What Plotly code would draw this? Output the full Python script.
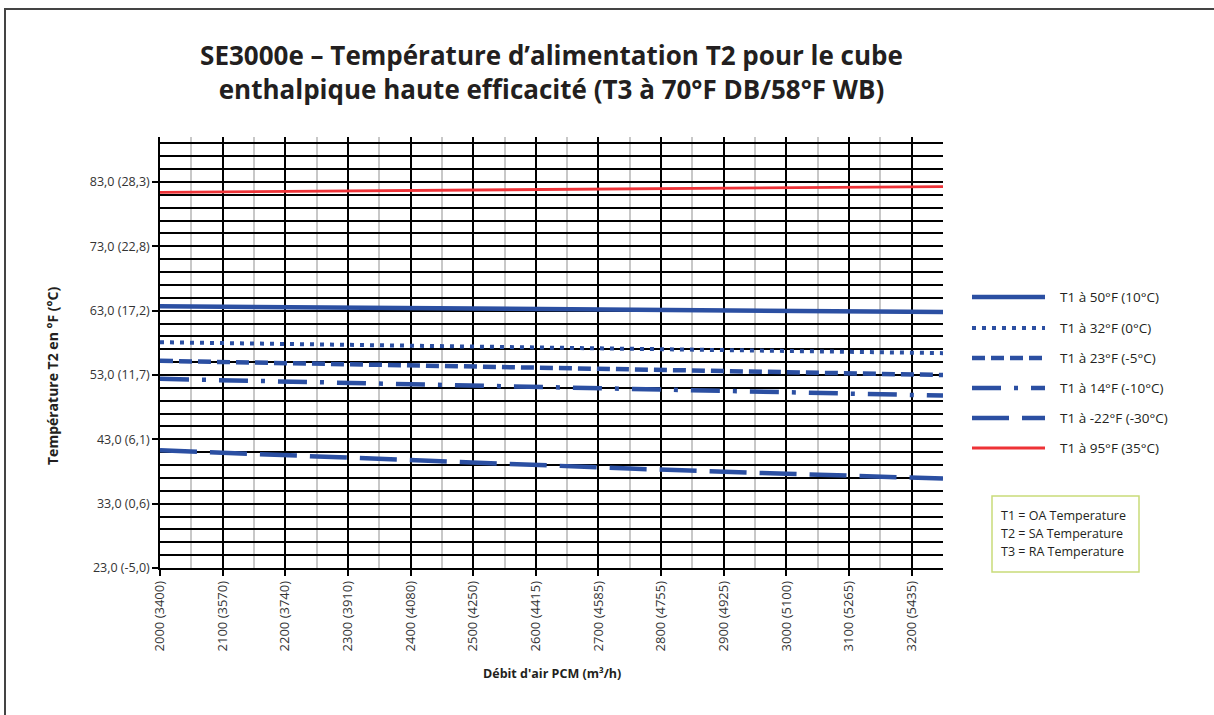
import plotly.graph_objects as go

# ---- data ----
airflow_cfm = [2000, 2250, 2500, 2750, 3000, 3250]
series_names = ["T1 à 50°F (10°C)", "T1 à 32°F (0°C)", "T1 à 23°F (-5°C)",
                "T1 à 14°F (-10°C)", "T1 à -22°F (-30°C)", "T1 à 95°F (35°C)"]
t1_50F = [63.7, 63.5, 63.3, 63.1, 62.95, 62.8]
t1_32F = [58.1, 57.75, 57.4, 57.05, 56.7, 56.4]
t1_23F = [55.2, 54.75, 54.3, 53.85, 53.45, 53.0]
t1_14F = [52.4, 51.85, 51.3, 50.8, 50.3, 49.8]
t1_m22F = [41.3, 40.3, 39.35, 38.45, 37.65, 36.9]
t1_95F = [81.4, 81.6, 81.8, 81.95, 82.1, 82.3]
series_values = [t1_50F, t1_32F, t1_23F, t1_14F, t1_m22F, t1_95F]

x_tick_cfm = [2000, 2100, 2200, 2300, 2400, 2500, 2600, 2700, 2800, 2900, 3000, 3100, 3200]
x_tick_m3h = [3400, 3570, 3740, 3910, 4080, 4250, 4415, 4585, 4755, 4925, 5100, 5265, 5435]
y_tick_f = [23, 33, 43, 53, 63, 73, 83]
y_tick_c = ["-5,0", "0,6", "6,1", "11,7", "17,2", "22,8", "28,3"]
definitions = ["T1 = OA Temperature", "T2 = SA Temperature", "T3 = RA Temperature"]

# ---- styles ----
BLUE = "#2B4FA2"
RED = "#EE3237"
styles = [
    dict(color=BLUE, width=4.5, dash="solid"),
    dict(color=BLUE, width=4, dash="4px,6px"),
    dict(color=BLUE, width=4.5, dash="13px,6px"),
    dict(color=BLUE, width=4.5, dash="29px,13px,4px,13px"),
    dict(color=BLUE, width=4.5, dash="37px,13px"),
    dict(color=RED, width=2.8, dash="solid"),
]

W, H = 1214, 715
L, R, T, B = 160, 943, 137, 568

def px_x(x):
    return (x - L) / (R - L)

def px_y(y):
    return (B - y) / (B - T)

fig = go.Figure()
for name, vals, st in zip(series_names, series_values, styles):
    fig.add_trace(go.Scatter(x=airflow_cfm, y=vals, mode="lines", name=name,
                             line=st, showlegend=False))

FONT = "Open Sans"
fig.update_layout(
    width=W, height=H,
    margin=dict(l=L, r=W - R, t=T, b=H - B),
    paper_bgcolor="white", plot_bgcolor="white",
    font=dict(family=FONT, color="#333333", size=12),
    title=dict(text="SE3000e – Température d’alimentation T2 pour le cube<br>enthalpique haute efficacité (T3 à 70°F DB/58°F WB)",
               x=0.5, xref="paper", xanchor="center",
               y=1 - 65 / H, yref="container", yanchor="middle",
               font=dict(family=FONT, size=26, color="#231F20", weight="bold")),
)

fig.update_xaxes(
    range=[2000, 3250],
    tickmode="array", tickvals=x_tick_cfm,
    ticktext=[f"{a} ({b})" for a, b in zip(x_tick_cfm, x_tick_m3h)],
    tickangle=-90, tickfont=dict(size=13, color="#333333"),
    ticks="outside", ticklen=6, tickwidth=1.5, tickcolor="black",
    showgrid=True, gridcolor="black", gridwidth=1.5,
    minor=dict(tickmode="linear", tick0=2050, dtick=100, showgrid=True,
               gridcolor="#c8c8c8", gridwidth=1.5, ticks=""),
    showline=True, linecolor="black", linewidth=1.5,
    zeroline=False,
)
fig.update_yaxes(
    range=[23, 90],
    tickmode="array", tickvals=y_tick_f,
    ticktext=[f"{f},0 ({c})" for f, c in zip(y_tick_f, y_tick_c)],
    tickfont=dict(size=12.5, color="#333333"),
    ticks="outside", ticklen=6, tickwidth=1.5, tickcolor="black",
    showgrid=True, gridcolor="black", gridwidth=1.5,
    minor=dict(tickmode="linear", tick0=23, dtick=2, showgrid=True,
               gridcolor="black", gridwidth=1.5, ticks=""),
    showline=True, linecolor="black", linewidth=1.5,
    zeroline=False,
)

# axis titles
fig.add_annotation(text="<b>Température T2 en °F (°C)</b>", x=px_x(52), y=px_y(376),
                   xref="paper", yref="paper", textangle=-90, showarrow=False,
                   xanchor="center", yanchor="middle",
                   font=dict(size=14, color="#231F20"))
fig.add_annotation(text="<b>Débit d'air PCM (m³/h)</b>", x=0.5, y=px_y(673),
                   xref="paper", yref="paper", showarrow=False,
                   xanchor="center", yanchor="middle",
                   font=dict(size=12.5, color="#231F20"))

# manual legend
legend_rows = [297, 328, 358, 388, 418, 448]
for name, st, yy in zip(series_names, styles, legend_rows):
    fig.add_shape(type="line", xref="paper", yref="paper",
                  x0=px_x(972), x1=px_x(1045), y0=px_y(yy), y1=px_y(yy),
                  line=st)
    fig.add_annotation(text=name, x=px_x(1058), y=px_y(yy), xref="paper", yref="paper",
                       xanchor="left", yanchor="middle", showarrow=False,
                       font=dict(size=13.5, color="#231F20"))

# definitions box
fig.add_shape(type="rect", xref="paper", yref="paper",
              x0=px_x(992), x1=px_x(1139), y0=px_y(572), y1=px_y(496),
              line=dict(color="#C9DC7A", width=1.5), fillcolor="white")
for txt, yy in zip(definitions, [515, 533, 551]):
    fig.add_annotation(text=txt, x=px_x(999), y=px_y(yy), xref="paper", yref="paper",
                       xanchor="left", yanchor="middle", align="left", showarrow=False,
                       font=dict(size=12.5, color="#231F20"))

# outer frame
fig.add_shape(type="rect", xref="paper", yref="paper",
              x0=px_x(5), x1=px_x(1230), y0=px_y(730), y1=px_y(9),
              line=dict(color="#444444", width=2), layer="below")

fig.write_html("out.html", config={"displayModeBar": False},
               post_script="document.body.style.margin='0px';")
